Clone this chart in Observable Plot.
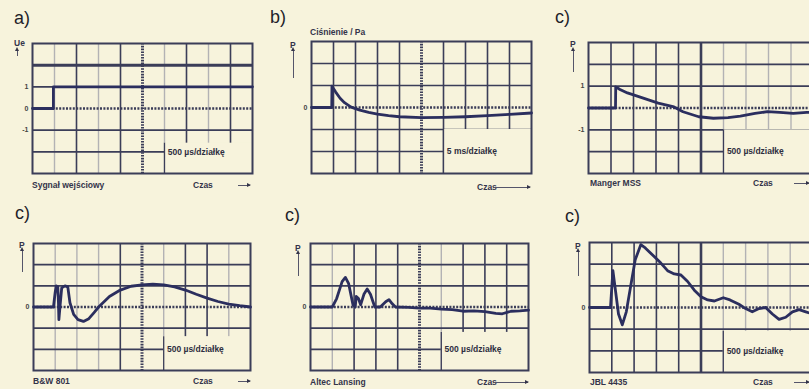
<!DOCTYPE html>
<html><head><meta charset="utf-8">
<script src="https://cdn.jsdelivr.net/npm/d3@7"></script>
<script src="https://cdn.jsdelivr.net/npm/@observablehq/plot@0.6"></script>
<style>
html,body{margin:0;padding:0;background:#f7f3dc;}
#root{position:relative;width:809px;height:389px;overflow:hidden;background:#f7f3dc;font-family:"Liberation Sans",Arial,sans-serif;color:#34344a;}
.lbl{position:absolute;white-space:nowrap;line-height:10px;}
.letter{font-size:18px;line-height:18px;color:#1f1f2a;}
.small{font-size:8.5px;font-weight:bold;}
.hl{position:absolute;border-top:1px solid #55556a;height:0;}
.vl{position:absolute;border-left:1px solid #55556a;width:0;}
</style></head><body><div id="root"></div>
<script>
// ---------- data (time in divisions, value in divisions) ----------
const aTime  = [0, 0.95, 0.95, 10];
const aValue = [0, 0, 1, 1];

const bTime  = [0, 0.92, 0.93, 1.1, 1.3, 1.5, 1.8, 2.2, 2.6, 3, 3.5, 4, 5, 6, 7, 8, 9, 10];
const bValue = [0, 0, 0.97, 0.7, 0.42, 0.22, 0.02, -0.12, -0.22, -0.3, -0.37, -0.42, -0.46, -0.45, -0.42, -0.37, -0.31, -0.25];

const cTime  = [0, 1.2, 1.21, 1.4, 1.73, 2.3, 3.1, 3.8, 4.2, 4.9, 5.55, 6.2, 6.75, 7.4, 7.95, 8.5, 9.1, 9.7, 10];
const cValue = [0, 0, 0.97, 0.85, 0.69, 0.5, 0.22, 0.05, -0.17, -0.4, -0.47, -0.44, -0.37, -0.25, -0.17, -0.2, -0.25, -0.2, -0.2];

const dTime  = [0, 0.92, 1.0, 1.05, 1.12, 1.15, 1.17, 1.22, 1.3, 1.45, 1.58, 1.68, 1.85, 2.05, 2.3, 2.55, 2.8, 3.0, 3.5, 4, 4.5, 5, 5.5, 6, 6.5, 7, 7.5, 8, 8.5, 9, 9.5, 10];
const dValue = [0, 0, 0.7, 1.0, 0.95, 0.2, -0.6, 0.0, 0.9, 1.0, 0.95, 0.2, -0.35, -0.6, -0.68, -0.55, -0.25, 0.0, 0.5, 0.8, 0.98, 1.05, 1.08, 1.05, 0.95, 0.8, 0.6, 0.42, 0.26, 0.14, 0.06, 0.0];

const eTime  = [0, 1.0, 1.2, 1.45, 1.6, 1.75, 1.95, 2.05, 2.1, 2.2, 2.3, 2.45, 2.6, 2.75, 2.95, 3.2, 3.45, 3.6, 3.75, 3.9, 4.5, 5, 5.5, 6, 6.5, 7, 7.5, 8, 8.5, 8.8, 9.2, 9.6, 10];
const eValue = [0, 0, 0.4, 1.2, 1.4, 1.1, 0.1, 0.0, 0.5, 0.4, 0.1, 0.6, 0.85, 0.6, 0.0, 0.0, 0.25, 0.35, 0.15, 0.0, -0.02, -0.05, -0.05, -0.1, -0.12, -0.2, -0.18, -0.22, -0.3, -0.32, -0.2, -0.18, -0.15];

const fTime  = [0, 0.94, 1.05, 1.15, 1.3, 1.47, 1.65, 1.85, 2.05, 2.3, 2.5, 2.9, 3.2, 3.5, 3.8, 4.1, 4.4, 4.7, 5.0, 5.3, 5.6, 6.0, 6.3, 6.7, 7.0, 7.3, 7.6, 7.9, 8.2, 8.5, 8.8, 9.1, 9.4, 9.7, 10];
const fValue = [0, 0, 1.7, 0.9, -0.3, -0.8, -0.2, 1.0, 2.2, 2.9, 2.75, 2.35, 2.05, 1.7, 1.55, 1.5, 1.2, 0.8, 0.5, 0.35, 0.3, 0.45, 0.35, 0.15, -0.05, -0.2, -0.05, 0.0, -0.3, -0.55, -0.45, -0.2, -0.1, -0.2, -0.3];

const gridCols = [1, 2, 3, 4, 6, 7, 8, 9];
const gridRows = [-2, -1, 1, 2];
const scaleLong = "500 µs/działkę";
const scaleShort = "5 ms/działkę";

const panels = [
  {left: 32, top: 43, w: 220, h: 130, t: aTime, v: aValue, faint: [1, 3, 6, 8], solidCenter: false, heavy: [2], boxTop: -1.6,
   ticks: [{v: 1, t: "1"}, {v: 0, t: "0"}, {v: -1, t: "-1"}], scale: scaleLong},
  {left: 311, top: 41, w: 220, h: 132, t: bTime, v: bValue, faint: [], solidCenter: false, heavy: [], boxTop: -1,
   ticks: [{v: 0, t: "0"}], scale: scaleShort},
  {left: 588, top: 42, w: 225, h: 131, t: cTime, v: cValue, faint: [6, 7, 8, 9], solidCenter: true, heavy: [], boxTop: -1,
   ticks: [{v: 1, t: "1"}, {v: -1, t: "-1"}], scale: scaleLong},
  {left: 33, top: 243, w: 217, h: 127, t: dTime, v: dValue, faint: [1, 2, 3, 6, 9], solidCenter: false, heavy: [], boxTop: -1.4,
   ticks: [{v: 0, t: "0"}], scale: scaleLong},
  {left: 310, top: 243, w: 218, h: 127, t: eTime, v: eValue, faint: [1, 6], solidCenter: false, heavy: [], boxTop: -1.2,
   ticks: [{v: 0, t: "0"}], scale: scaleLong},
  {left: 589, top: 242, w: 223, h: 130, t: fTime, v: fValue, faint: [6, 7, 8, 9], solidCenter: true, heavy: [], boxTop: -1.1,
   ticks: [{v: 0, t: "0"}], scale: scaleLong}
];

const paper = "#f7f3dc";
const ink = "#3b3d58";
const faintInk = "#b3b2b4";
const traceInk = "#2b2e5e";
const root = document.getElementById("root");

function drawPanel(p) {
  const pad = 24;
  const dark = gridCols.filter(c => !p.faint.includes(c));
  const faint = gridCols.filter(c => p.faint.includes(c));
  const data = p.t.map((t, i) => ({t, v: p.v[i]}));
  const centerOpts = p.solidCenter ? {stroke: ink, strokeWidth: 2.6} : {stroke: ink, strokeWidth: 3, strokeDasharray: "1.6,1.2"};
  const svg = Plot.plot({
    width: p.w + 2 * pad, height: p.h + 2 * pad,
    marginLeft: pad, marginRight: pad, marginTop: pad, marginBottom: pad,
    x: {domain: [0, 10], axis: null},
    y: {domain: [-3, 3], axis: null},
    style: {background: "transparent", overflow: "visible", fontFamily: "Liberation Sans, Arial, sans-serif"},
    marks: [
      Plot.ruleX(faint, {stroke: faintInk, strokeWidth: 1.4}),
      Plot.ruleX(dark, {stroke: ink, strokeWidth: 1.6}),
      Plot.ruleY(gridRows, {stroke: ink, strokeWidth: 1.6}),
      Plot.ruleY(p.heavy, {stroke: ink, strokeWidth: 3}),
      Plot.rect([0], {x1: 6, x2: 10, y1: p.boxTop, y2: -3, fill: paper}),
      Plot.ruleX([6], {y1: p.boxTop, y2: -3, stroke: ink, strokeWidth: 1.3}),
      Plot.ruleX([5], centerOpts),
      Plot.ruleY([0], {stroke: ink, strokeWidth: 2.4, strokeDasharray: "2,1.4"}),
      Plot.frame({stroke: ink, strokeWidth: 2}),
      Plot.text([p.scale], {x: 6.15, y: -2, text: d => d, textAnchor: "start", fontSize: 8.5, fontWeight: "bold", fill: "#2e2e40"}),
      Plot.line(data, {x: "t", y: "v", stroke: traceInk, strokeWidth: 2.8, strokeLinejoin: "round", strokeLinecap: "round"}),
      Plot.text(p.ticks, {x: 0, y: "v", text: "t", dx: -4, textAnchor: "end", fontSize: 7, fontWeight: "bold", fill: "#444"})
    ]
  });
  svg.style.position = "absolute";
  svg.style.left = (p.left - pad) + "px";
  svg.style.top = (p.top - pad) + "px";
  root.appendChild(svg);
}
panels.forEach(drawPanel);

// ---------- text ----------
const texts = [
  {t: "a)", x: 14, y: 9, c: "letter"}, {t: "b)", x: 270, y: 8, c: "letter"}, {t: "c)", x: 555, y: 8, c: "letter"},
  {t: "c)", x: 15, y: 204, c: "letter"}, {t: "c)", x: 285, y: 206, c: "letter"}, {t: "c)", x: 565, y: 207, c: "letter"},
  {t: "Sygnał wejściowy", x: 32, y: 180, c: "small"}, {t: "Czas", x: 193, y: 180, c: "small"},
  {t: "Ciśnienie / Pa", x: 310, y: 27, c: "small"}, {t: "Czas", x: 477, y: 182, c: "small"},
  {t: "Manger MSS", x: 590, y: 178, c: "small"}, {t: "Czas", x: 753, y: 178, c: "small"},
  {t: "B&W 801", x: 33, y: 376, c: "small"}, {t: "Czas", x: 193, y: 376, c: "small"},
  {t: "Altec Lansing", x: 310, y: 377, c: "small"}, {t: "Czas", x: 477, y: 377, c: "small"},
  {t: "JBL 4435", x: 590, y: 377, c: "small"}, {t: "Czas", x: 753, y: 377, c: "small"},
  {t: "Ue", x: 14, y: 38, c: "small"},
  {t: "P", x: 290, y: 40, c: "small"}, {t: "P", x: 570, y: 39, c: "small"}, {t: "P", x: 19, y: 240, c: "small"},
  {t: "P", x: 295, y: 243, c: "small"}, {t: "P", x: 575, y: 241, c: "small"}
];
texts.forEach(d => {
  const el = document.createElement("div");
  el.className = "lbl " + d.c;
  el.textContent = d.t;
  el.style.left = d.x + "px";
  el.style.top = d.y + "px";
  root.appendChild(el);
});

// axis arrows (up) and time arrows (right)
const upArrows = [{x: 17, y1: 50, y2: 56}, {x: 293, y1: 50, y2: 78}, {x: 573, y1: 50, y2: 72}, {x: 22, y1: 250, y2: 272}, {x: 298, y1: 253, y2: 276}, {x: 578, y1: 251, y2: 276}];
upArrows.forEach(a => {
  const l = document.createElement("div");
  l.className = "vl";
  l.style.left = a.x + "px"; l.style.top = a.y1 + "px"; l.style.height = (a.y2 - a.y1) + "px";
  root.appendChild(l);
  const h = document.createElement("div");
  h.style.cssText = `position:absolute;left:${a.x - 2}px;top:${a.y1 - 3}px;width:0;height:0;border-left:2.5px solid transparent;border-right:2.5px solid transparent;border-bottom:4px solid #34344a;`;
  root.appendChild(h);
});
const rightArrows = [{y: 185, x1: 238, x2: 250}, {y: 187, x1: 494, x2: 530}, {y: 183, x1: 794, x2: 809}, {y: 381, x1: 238, x2: 250}, {y: 382, x1: 494, x2: 528}, {y: 382, x1: 794, x2: 809}];
rightArrows.forEach(a => {
  const l = document.createElement("div");
  l.className = "hl";
  l.style.left = a.x1 + "px"; l.style.top = a.y + "px"; l.style.width = (a.x2 - a.x1) + "px";
  root.appendChild(l);
  const h = document.createElement("div");
  h.style.cssText = `position:absolute;left:${a.x2 - 3}px;top:${a.y - 2}px;width:0;height:0;border-top:2.5px solid transparent;border-bottom:2.5px solid transparent;border-left:4px solid #34344a;`;
  root.appendChild(h);
});
</script></body></html>
